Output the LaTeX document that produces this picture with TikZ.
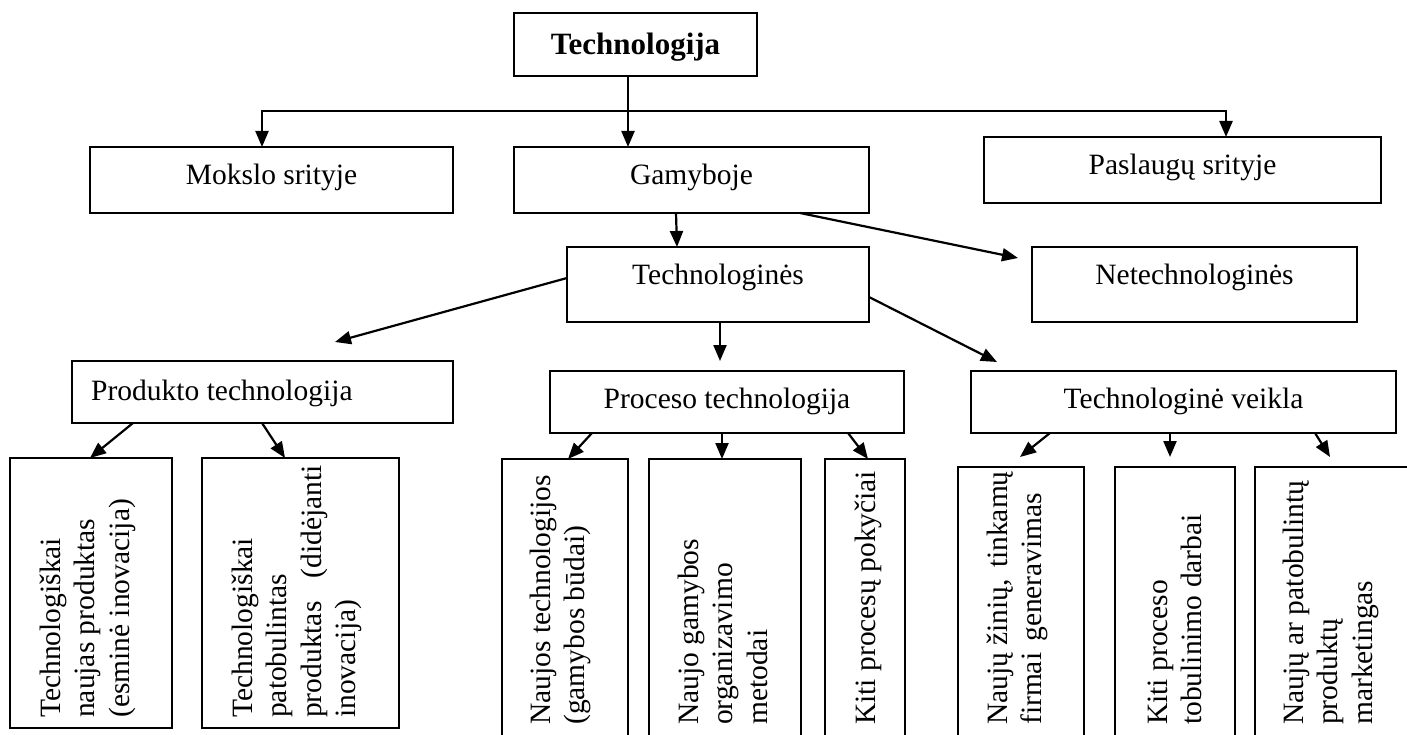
\documentclass[tikz,border=0pt]{standalone}
\usepackage{fontspec}
\setmainfont{Liberation Serif}
\usetikzlibrary{arrows.meta,calc}
\begin{document}
\begin{tikzpicture}[x=1pt,y=-1pt,
  box/.style={draw,line width=2pt,inner sep=0pt,outer sep=0pt},
  lbl/.style={inner sep=0pt,anchor=base,font=\fontsize{29.5}{34.5}\selectfont},
  vlbl/.style={inner sep=0pt,anchor=base west,rotate=90,font=\fontsize{29.5}{34.5}\selectfont},
  link/.style={line width=2pt},
  arr/.style={line width=2.2pt,-{Triangle[length=16pt,width=13pt]}}]

\useasboundingbox (0,0) rectangle (1407,735);
\clip (0,0) rectangle (1407,735);
\fill[white] (0,0) rectangle (1407,735);

% ---------- boxes ----------
\node[box,minimum width=243pt,minimum height=63pt] (tech)   at (635.5,44.5) {};
\node[box,minimum width=363pt,minimum height=66pt] (mokslo) at (271.5,180) {};
\node[box,minimum width=355pt,minimum height=66pt] (gam)    at (691.5,180) {};
\node[box,minimum width=397pt,minimum height=66pt] (pasl)   at (1182.5,170) {};
\node[box,minimum width=302pt,minimum height=75pt] (techn)  at (718,284.5) {};
\node[box,minimum width=325pt,minimum height=75pt] (netech) at (1194.5,284.5) {};
\node[box,minimum width=381pt,minimum height=62pt] (prod)   at (262.5,392) {};
\node[box,minimum width=354pt,minimum height=62pt] (proc)   at (727,402) {};
\node[box,minimum width=425pt,minimum height=62pt] (veik)   at (1183.5,402) {};

\node[box,minimum width=162pt,minimum height=270pt] (b1) at (91,593) {};
\node[box,minimum width=197pt,minimum height=270pt] (b2) at (300.5,593) {};
\node[box,minimum width=126pt,minimum height=286pt] (b3) at (565,602) {};
\node[box,minimum width=152pt,minimum height=286pt] (b4) at (725,602) {};
\node[box,minimum width=80pt,minimum height=286pt]  (b5) at (865,602) {};
\node[box,minimum width=126pt,minimum height=278pt] (b6) at (1021,606) {};
\node[box,minimum width=120pt,minimum height=278pt] (b7) at (1175,606) {};
\node[box,minimum width=165pt,minimum height=278pt] (b8) at (1337.5,606) {};

% ---------- labels ----------
\node[lbl,font=\fontsize{31}{36}\selectfont\bfseries] (tTech) at (635.5,55) {Technologija};
\node[lbl] (tMokslo) at (271.5,185) {Mokslo srityje};
\node[lbl] (tGam)    at (691.5,185) {Gamyboje};
\node[lbl] (tPasl)   at (1182.5,175) {Paslaugų srityje};
\node[lbl] (tTechn)  at (718,284) {Technologinės};
\node[lbl] (tNetech) at (1194.5,284) {Netechnologinės};
\node[lbl,anchor=base west] (tProd) at (91,400) {Produkto technologija};
\node[lbl] (tProc)   at (727,408) {Proceso technologija};
\node[lbl] (tVeik)   at (1183.5,408) {Technologinė veikla};

\node[vlbl] (t1) at (60,718)
  {\vtop{\hbox{Technologiškai}\hbox{naujas produktas}\hbox{(esminė inovacija)}}};
\node[vlbl] (t2) at (252,718)
  {\vtop{\hbox{Technologiškai}\hbox{patobulintas}\hbox{produktas\hspace{23pt}(didėjanti}\hbox{inovacija)}}};
\node[vlbl] (t3) at (550,725)
  {\vtop{\hbox{Naujos technologijos}\hbox{(gamybos būdai)}}};
\node[vlbl] (t4) at (698,725)
  {\vtop{\hbox{Naujo gamybos}\hbox{organizavimo}\hbox{metodai}}};
\node[vlbl] (t5) at (875,725)
  {\vtop{\hbox{Kiti procesų pokyčiai}}};
\node[vlbl] (t6) at (1007,725)
  {\vtop{\hbox{Naujų žinių,\hspace{11pt}tinkamų}\hbox{firmai\hspace{11pt}generavimas}}};
\node[vlbl] (t7) at (1167,725)
  {\vtop{\hbox{Kiti proceso}\hbox{tobulinimo darbai}}};
\node[vlbl] (t8) at (1303,725)
  {\vtop{\hbox{Naujų ar patobulintų}\hbox{produktų}\hbox{marketingas}}};

% ---------- connectors ----------
\coordinate (split) at (628,111);
\draw[link] (tech.south -| split) -- (split);
\draw[arr] (split) -| ($(mokslo.north)+(-9.5,0)$);
\draw[arr] (split) -| ($(pasl.north)+(43.5,0)$);
\draw[arr] (split) -- (split |- gam.north);

\draw[arr] ($(gam.south)+(-15.5,0)$) -- ($(techn.north)+(-41,0)$);
\draw[arr] ($(gam.south)+(108.5,0)$) -- ($(netech.west)+(-14,-26.5)$);

\draw[arr] ($(techn.west)+(0,-6.5)$) -- ($(prod.north)+(72.5,-19)$);
\draw[arr] ($(techn.south)+(2,0)$) -- ($(proc.north)+(-7,-10)$);
\draw[arr] ($(techn.east)+(0,12.5)$) -- ($(veik.north)+(-186.5,-9)$);

\draw[arr] ($(prod.south)+(-129.5,0)$) -- ($(b1.north)+(-1,0)$);
\draw[arr] ($(prod.south)+(-0.5,0)$) -- ($(b2.north)+(-15.5,0)$);

\draw[arr] ($(proc.south)+(-135,0)$) -- ($(b3.north)+(3,0)$);
\draw[arr] ($(proc.south)+(-5,0)$) -- ($(b4.north)+(-3,0)$);
\draw[arr] ($(proc.south)+(121,0)$) -- ($(b5.north)+(3,0)$);

\draw[arr] ($(veik.south)+(-133.5,0)$) -- ($(b6.north)+(-1,-10)$);
\draw[arr] ($(veik.south)+(-13.5,0)$) -- ($(b7.north)+(-5,-10)$);
\draw[arr] ($(veik.south)+(131.5,0)$) -- ($(b8.north)+(-7.5,-10)$);
\end{tikzpicture}
\end{document}
